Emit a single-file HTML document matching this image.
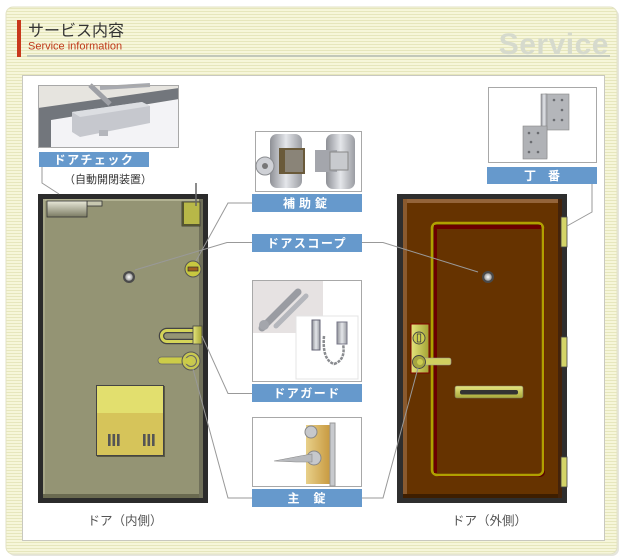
<!DOCTYPE html>
<html><head><meta charset="utf-8"><style>
html,body{margin:0;padding:0;background:#fff;}
svg{display:block;}
text{font-family:"Liberation Sans","Noto Sans CJK JP",sans-serif;}
</style></head><body>
<svg width="624" height="559" viewBox="0 0 624 559" xmlns="http://www.w3.org/2000/svg">
<defs>
<pattern id="st" width="4" height="3" patternUnits="userSpaceOnUse"><rect width="4" height="3" fill="#f6f6da"/><rect y="2" width="4" height="1" fill="#e6e6bc"/></pattern>
<linearGradient id="closer" x1="0" y1="0" x2="0" y2="1"><stop offset="0" stop-color="#e8e8d8"/><stop offset="1" stop-color="#7a7a62"/></linearGradient>
<linearGradient id="yplate" x1="0" y1="0" x2="1" y2="0"><stop offset="0" stop-color="#e4e47c"/><stop offset="1" stop-color="#a4a434"/></linearGradient>
<linearGradient id="ybar" x1="0" y1="0" x2="0" y2="1"><stop offset="0" stop-color="#e6e680"/><stop offset="1" stop-color="#a8a838"/></linearGradient>
<radialGradient id="peep" cx="0.5" cy="0.5" r="0.5"><stop offset="0" stop-color="#ffffff"/><stop offset="1" stop-color="#9a9a9a"/></radialGradient>
<linearGradient id="silver" x1="0" y1="0" x2="1" y2="0"><stop offset="0" stop-color="#8e9096"/><stop offset="0.5" stop-color="#e4e6ea"/><stop offset="1" stop-color="#9a9ca2"/></linearGradient>
<linearGradient id="gold" x1="0" y1="0" x2="1" y2="0"><stop offset="0" stop-color="#e8d08a"/><stop offset="1" stop-color="#c89a40"/></linearGradient>
</defs>

<!-- outer panel -->
<rect x="8" y="9" width="611" height="547" rx="7" fill="#e6e6de"/>
<rect x="6" y="7" width="611" height="547" rx="7" fill="url(#st)" stroke="#e2e2c4"/>

<!-- title -->
<rect x="17" y="20" width="4" height="37" fill="#c8381c"/>
<text x="28" y="36" font-size="16" fill="#333">サービス内容</text>
<text x="28" y="49.5" font-size="11" fill="#c0391b">Service information</text>
<text x="609" y="54" font-size="30" font-weight="bold" fill="#d6dacd" text-anchor="end" letter-spacing="0.5">Service</text>
<rect x="27" y="55" width="583" height="2" fill="#c2c8ba"/>

<!-- inner white box -->
<rect x="22.5" y="75.5" width="582" height="465" fill="#fff" stroke="#c8c8c0"/>

<!-- door closer photo -->
<rect x="38" y="85" width="141" height="63" fill="#e6e4df"/>
<polygon points="51,120 179,99 179,148 51,148" fill="#f3f3f6"/>
<polygon points="38,108 179,88 179,99 51,120 51,148 38,148" fill="#72767c"/>
<line x1="90" y1="85" x2="110" y2="104" stroke="#9ea0a6" stroke-width="5"/>
<line x1="100" y1="88" x2="150" y2="85" stroke="#a8aab0" stroke-width="4"/>
<polygon points="72,112 142,102 150,106 150,123 80,137 72,132" fill="#c6c8ce"/>
<polygon points="72,112 142,102 150,106 80,117" fill="#dcdee2"/>
<rect x="99" y="130" width="9" height="6" fill="#b4b6bc"/>
<rect x="38.5" y="85.5" width="140" height="62" fill="none" stroke="#a8a8a8"/>
<rect x="39" y="152" width="110" height="15" fill="#6699cc"/>
<text x="94" y="164" font-size="12" font-weight="bold" fill="#fff" text-anchor="middle" letter-spacing="1.5">ドアチェック</text>
<text x="108" y="183" font-size="11" fill="#333" text-anchor="middle">（自動開閉装置）</text>

<!-- 補助錠 photo -->
<rect x="255.5" y="131.5" width="106" height="60" fill="#fff" stroke="#a8a8a8"/>
<rect x="270" y="134" width="32" height="54" rx="7" fill="url(#silver)"/>
<rect x="279" y="148" width="26" height="26" fill="#6a5a3a"/>
<rect x="285" y="150" width="18" height="22" fill="#8a8478"/>
<circle cx="265" cy="166" r="9" fill="#cfd1d6" stroke="#8a8c90"/>
<circle cx="265" cy="166" r="3" fill="#777"/>
<rect x="326" y="134" width="29" height="55" rx="7" fill="url(#silver)"/>
<rect x="315" y="150" width="22" height="22" fill="#a4a6ac"/>
<rect x="330" y="152" width="18" height="18" fill="#c8cace" stroke="#888"/>
<rect x="252" y="194" width="110" height="18" fill="#6699cc"/>
<text x="307" y="207.5" font-size="12" font-weight="bold" fill="#fff" text-anchor="middle" letter-spacing="4">補助錠</text>

<rect x="252" y="234" width="110" height="18" fill="#6699cc"/>
<text x="307" y="247.5" font-size="12" font-weight="bold" fill="#fff" text-anchor="middle" letter-spacing="1.5">ドアスコープ</text>

<!-- ドアガード photo -->
<rect x="252.5" y="280.5" width="109" height="101" fill="#fff" stroke="#a8a8a8"/>
<rect x="253" y="281" width="70" height="52" fill="#e6e2e2"/>
<line x1="262" y1="328" x2="298" y2="292" stroke="#9a9ca2" stroke-width="7" stroke-linecap="round"/>
<line x1="276" y1="326" x2="306" y2="296" stroke="#b4b6bc" stroke-width="5" stroke-linecap="round"/>
<circle cx="264" cy="325" r="5" fill="#a4a6ac"/>
<rect x="296" y="316" width="62" height="63" fill="#fff" stroke="#e4e4e4"/>
<rect x="312" y="320" width="8" height="30" fill="url(#silver)" stroke="#667"/>
<rect x="337" y="322" width="10" height="22" fill="url(#silver)" stroke="#778"/>
<path d="M324 336 Q322 360 334 364 Q346 360 343 344" fill="none" stroke="#8a8c90" stroke-width="2.5" stroke-dasharray="3 1"/>
<rect x="252" y="384" width="110" height="18" fill="#6699cc"/>
<text x="307" y="397.5" font-size="12" font-weight="bold" fill="#fff" text-anchor="middle" letter-spacing="1.5">ドアガード</text>

<!-- 主錠 photo -->
<rect x="252.5" y="417.5" width="109" height="69" fill="#fff" stroke="#a8a8a8"/>
<rect x="306" y="425" width="24" height="59" fill="url(#gold)"/>
<rect x="330" y="423" width="5" height="63" fill="#c8cace" stroke="#999"/>
<circle cx="311" cy="432" r="6" fill="#c6c8cc" stroke="#888"/>
<circle cx="314" cy="458" r="7" fill="#c6c8cc" stroke="#888"/>
<path d="M274 461 L300 456 L312 454 L312 462 L296 462 Z" fill="#b8babe" stroke="#888" stroke-width="0.6"/>
<rect x="252" y="489" width="110" height="18" fill="#6699cc"/>
<text x="307" y="502.5" font-size="12" font-weight="bold" fill="#fff" text-anchor="middle" letter-spacing="1">主　錠</text>

<!-- 丁番 photo -->
<rect x="488.5" y="87.5" width="108" height="75" fill="#fff" stroke="#a8a8a8"/>
<rect x="545" y="94" width="24" height="36" fill="#b4b6ba" stroke="#888" stroke-width="0.6"/>
<rect x="541" y="94" width="6" height="64" fill="url(#silver)" stroke="#888" stroke-width="0.6"/>
<rect x="523" y="126" width="24" height="33" fill="#b0b2b6" stroke="#888" stroke-width="0.6"/>
<g fill="#6a6c70"><circle cx="554" cy="100" r="1.3"/><circle cx="562" cy="100" r="1.3"/><circle cx="562" cy="110" r="1.3"/><circle cx="554" cy="120" r="1.3"/><circle cx="562" cy="120" r="1.3"/><circle cx="529" cy="133" r="1.3"/><circle cx="538" cy="133" r="1.3"/><circle cx="531" cy="142" r="1.3"/><circle cx="529" cy="152" r="1.3"/><circle cx="538" cy="152" r="1.3"/></g>
<rect x="487" y="167" width="110" height="17" fill="#6699cc"/>
<text x="542" y="180" font-size="12" font-weight="bold" fill="#fff" text-anchor="middle">丁　番</text>

<!-- LEFT DOOR (inside) -->
<rect x="38" y="194" width="170" height="309" fill="#2b2b2b"/>
<rect x="43" y="199" width="160" height="299" fill="#949474"/>
<rect x="43" y="199" width="160" height="2" fill="#b2b292"/>
<rect x="43" y="199" width="2" height="299" fill="#a8a888"/>
<rect x="43" y="494" width="160" height="4" fill="#6a6a50"/>
<rect x="199" y="199" width="4" height="299" fill="#70705a"/>
<!-- closer -->
<rect x="87" y="201" width="15" height="5" fill="#c8c8b0" stroke="#333" stroke-width="0.8"/>
<rect x="47" y="201" width="40" height="16" fill="url(#closer)" stroke="#333" stroke-width="0.8"/>
<!-- top yellow box -->
<rect x="182" y="202" width="18" height="24" fill="#b8b848" stroke="#333" stroke-width="0.8"/>
<rect x="182" y="202" width="2" height="24" fill="#555530"/>
<rect x="182" y="224" width="18" height="2" fill="#555530"/>
<!-- cylinder -->
<circle cx="193" cy="269" r="8" fill="#c8c840" stroke="#555" stroke-width="1"/>
<rect x="188" y="267" width="10" height="4" fill="#a06020" stroke="#333" stroke-width="0.7"/>
<!-- peephole -->
<circle cx="129" cy="277" r="6" fill="#4a4a4a"/>
<circle cx="129" cy="277" r="3.8" fill="url(#peep)"/>
<!-- guard -->
<path d="M193 330.5 L167 330.5 A5.5 5.5 0 0 0 167 341.5 L193 341.5" fill="none" stroke="#444" stroke-width="5.5"/>
<path d="M193 330.5 L167 330.5 A5.5 5.5 0 0 0 167 341.5 L193 341.5" fill="none" stroke="#d4d458" stroke-width="3"/>
<rect x="193" y="326" width="9" height="18" fill="url(#yplate)" stroke="#444" stroke-width="0.8"/>
<!-- lever -->
<rect x="158" y="357" width="33" height="7" rx="3.5" fill="#cccc48" stroke="#666" stroke-width="0.8"/>
<circle cx="191" cy="361" r="9" fill="#c8c850" stroke="#555" stroke-width="1"/>
<circle cx="191" cy="361" r="5.5" fill="none" stroke="#666" stroke-width="1"/>
<rect x="184" y="358" width="8" height="6" rx="3" fill="#cccc48"/>
<!-- mail box -->
<rect x="97" y="386" width="68" height="71" fill="#5a5a44"/>
<polygon points="96,385 164,385 163,413 97,413" fill="#e2df6e"/>
<rect x="97" y="413" width="66" height="42" fill="#d6c45a"/>
<rect x="96.5" y="385.5" width="67" height="70" fill="none" stroke="#444" stroke-width="1"/>
<g fill="#555"><rect x="108" y="434" width="2.6" height="12"/><rect x="112.5" y="434" width="2.6" height="12"/><rect x="117" y="434" width="2.6" height="12"/><rect x="143" y="434" width="2.6" height="12"/><rect x="147.5" y="434" width="2.6" height="12"/><rect x="152" y="434" width="2.6" height="12"/></g>
<text x="125" y="525" font-size="12.5" fill="#555" text-anchor="middle">ドア（内側）</text>

<!-- RIGHT DOOR (outside) -->
<rect x="397" y="194" width="170" height="309" fill="#2e2e2e"/>
<rect x="403" y="199" width="159" height="299" fill="#663300"/>
<rect x="403" y="199" width="159" height="4" fill="#94643a"/>
<rect x="403" y="199" width="4" height="299" fill="#8a5a2e"/>
<rect x="403" y="494" width="159" height="4" fill="#3e1e00"/>
<rect x="558" y="199" width="4" height="299" fill="#44230a"/>
<rect x="434" y="225" width="111" height="252" rx="5" fill="#5a0000"/>
<rect x="432" y="223" width="111" height="252" rx="5" fill="#663300" stroke="#b0a000" stroke-width="2.5"/>
<rect x="434" y="225" width="107" height="4" fill="#6a0000"/>
<rect x="434" y="225" width="3" height="248" fill="#6a0000"/>
<!-- hinges -->
<rect x="561" y="217" width="6" height="30" fill="#d4d468" stroke="#444" stroke-width="0.8"/>
<rect x="561" y="337" width="6" height="30" fill="#d4d468" stroke="#444" stroke-width="0.8"/>
<rect x="561" y="457" width="6" height="30" fill="#d4d468" stroke="#444" stroke-width="0.8"/>
<!-- peephole -->
<circle cx="488" cy="277" r="6" fill="#4a4a4a"/>
<circle cx="488" cy="277" r="3.8" fill="url(#peep)"/>
<!-- lock plate -->
<rect x="411" y="324" width="18" height="49" fill="url(#yplate)" stroke="#800000" stroke-width="1"/>
<circle cx="419" cy="338" r="6" fill="#cccc50" stroke="#444" stroke-width="0.9"/>
<rect x="417.3" y="334" width="3.4" height="8" fill="none" stroke="#444" stroke-width="0.8"/>
<rect x="419" y="358" width="32" height="7" rx="2" fill="#d0d060" stroke="#999" stroke-width="0.6"/>
<circle cx="419" cy="362" r="6.5" fill="#a4a440" stroke="#444" stroke-width="0.9"/>
<circle cx="420" cy="362" r="3" fill="#cccc50"/>
<!-- mail slot -->
<rect x="455" y="386" width="68" height="12" rx="2" fill="url(#ybar)" stroke="#776" stroke-width="0.6"/>
<rect x="460" y="390" width="58" height="4.5" rx="2" fill="#333"/>
<text x="489.5" y="525" font-size="12.5" fill="#555" text-anchor="middle">ドア（外側）</text>

<!-- connectors -->
<g fill="none" stroke="#999" stroke-width="1">
<polyline points="42,167 42,183 59,194"/>
<polyline points="252,203 228,203 196,261"/>
<polyline points="252,242.5 227,242.5 135,270"/>
<polyline points="362,242.5 383,242.5 478,272"/>
<polyline points="252,393.5 228,393.5 202,336"/>
<polyline points="252,498 228,498 193,369"/>
<polyline points="362,498 383,498 418,368"/>
<polyline points="592,184 592,212 567,226"/>
</g>
<line x1="196" y1="183" x2="196" y2="206" stroke="#666" stroke-width="1.5"/>
</svg>
</body></html>
